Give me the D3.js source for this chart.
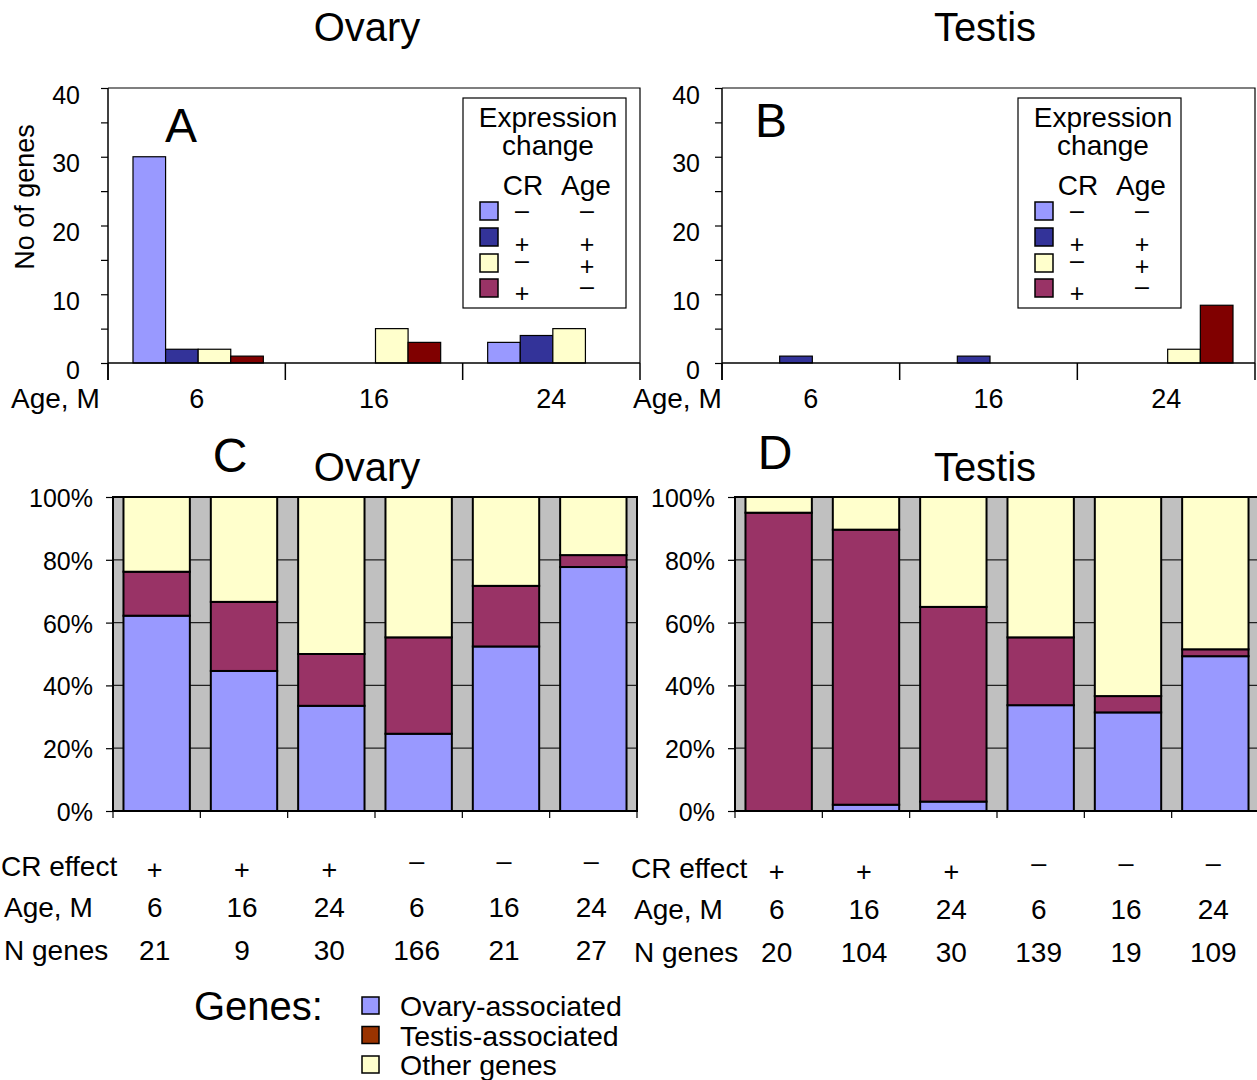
<!DOCTYPE html>
<html>
<head>
<meta charset="utf-8">
<script src="https://cdn.jsdelivr.net/npm/d3@7"></script>
<style>
  body { margin: 0; background: #fff; }
  svg text { font-family: "Liberation Sans", Arial, Helvetica, sans-serif; fill: #000; }
</style>
</head>
<body>
<svg id="fig" width="1257" height="1080"></svg>
<script>
// ---- data: panels A / B (number of genes per age, by expression change) ----
const ages = ["6", "16", "24"];
const exprKeys = ["CR- Age-", "CR+ Age+", "CR- Age+", "CR+ Age-"];
const crSigns  = ["−", "+", "−", "+"];
const ageSigns = ["−", "+", "+", "−"];

const ovaryDownDown = [30, 0, 3];
const ovaryUpUp     = [2, 0, 4];
const ovaryDownUp   = [2, 5, 5];
const ovaryUpDown   = [1, 3, 0];

const testisDownDown = [0, 0, 0];
const testisUpUp     = [1, 1, 0];
const testisDownUp   = [0, 0, 2];
const testisUpDown   = [0, 0, 8.4];

// ---- data: panels C / D (percent of genes by tissue association) ----
const crEffect  = ["+", "+", "+", "−", "−", "−"];
const stackAges = ["6", "16", "24", "6", "16", "24"];

const ovaryNGenes  = [21, 9, 30, 166, 21, 27];
const ovaryPctOvaryAssoc  = [62.2, 44.6, 33.5, 24.6, 52.4, 77.7];
const ovaryPctTestisAssoc = [14.0, 22.0, 16.5, 30.7, 19.3, 3.8];
const ovaryPctOther       = [23.8, 33.4, 50.0, 44.7, 28.3, 18.5];

const testisNGenes = [20, 104, 30, 139, 19, 109];
const testisPctOvaryAssoc  = [0, 2.0, 3.0, 33.7, 31.4, 49.3];
const testisPctTestisAssoc = [95.0, 87.6, 62.0, 21.6, 5.2, 2.2];
const testisPctOther       = [5.0, 10.4, 35.0, 44.7, 63.4, 48.5];

const geneGroups = ["Ovary-associated", "Testis-associated", "Other genes"];

// colours
const barColors = ["#9999ff", "#333399", "#ffffcc", "#800000"];
const exprLegendColors = ["#9999ff", "#333399", "#ffffcc", "#993366"];
const stackColors = ["#9999ff", "#993366", "#ffffcc"];
const geneLegendColors = ["#9999ff", "#993300", "#ffffcc"];

const svg = d3.select("#fig");

function txt(g, x, y, s, size, anchor) {
  return g.append("text").attr("x", x).attr("y", y).attr("font-size", size)
    .attr("text-anchor", anchor || "start").text(s);
}

function drawBars(o) {
  const g = svg.append("g");
  const x0 = d3.scaleBand().domain(ages).range([o.left, o.right]);
  const x1 = d3.scaleBand().domain(d3.range(o.series.length)).range([25, x0.bandwidth() - 22]);
  const y = d3.scaleLinear().domain([0, 40]).range([o.bottom, o.top]);

  g.append("path")
    .attr("d", `M${o.left},${o.top}H${o.right}V${o.bottom}`)
    .attr("fill", "none").attr("stroke", "#000").attr("stroke-width", 1.2);

  o.series.forEach((vals, j) => {
    g.selectAll(null)
      .data(vals.map((v, i) => ({ v: v, age: ages[i] })).filter(d => d.v > 0))
      .join("rect")
      .attr("x", d => x0(d.age) + x1(j))
      .attr("width", x1.bandwidth())
      .attr("y", d => y(d.v))
      .attr("height", d => y(0) - y(d.v))
      .attr("fill", barColors[j])
      .attr("stroke", "#000").attr("stroke-width", 1.2);
  });

  const ya = g.append("g").attr("transform", `translate(${o.left},0)`)
    .call(d3.axisLeft(y).tickValues(d3.range(0, 41, 5)).tickSize(7).tickPadding(o.pad)
      .tickFormat(d => d % 10 === 0 ? d : ""));
  ya.select(".domain").remove();
  ya.selectAll("line").attr("stroke-width", 1.2);
  ya.selectAll("text").attr("font-size", 25).attr("dy", "0.6em");

  g.append("line").attr("x1", o.left).attr("x2", o.left)
    .attr("y1", o.top).attr("y2", o.bottom + 17)
    .attr("stroke", "#000").attr("stroke-width", 1.5);
  g.append("line").attr("x1", o.left).attr("x2", o.right)
    .attr("y1", y(0)).attr("y2", y(0))
    .attr("stroke", "#000").attr("stroke-width", 1.5);
  g.selectAll(null).data(d3.range(ages.length + 1)).join("line")
    .attr("x1", i => o.left + i * x0.step()).attr("x2", i => o.left + i * x0.step())
    .attr("y1", y(0)).attr("y2", y(0) + 17)
    .attr("stroke", "#000").attr("stroke-width", 1.5);

  const xa = g.append("g").attr("transform", `translate(0,${o.bottom})`)
    .call(d3.axisBottom(x0).tickSize(0).tickPadding(0));
  xa.select(".domain").remove();
  xa.selectAll("text").attr("font-size", 27).attr("dy", 0).attr("y", 45);
  txt(g, o.ageX, o.bottom + 45, "Age, M", 28);

  txt(g, o.letterX, o.letterY, o.letter, 48, "middle");

  // expression change legend box
  const bx = o.boxX, by = 98;
  g.append("rect").attr("x", bx).attr("y", by).attr("width", 163).attr("height", 210)
    .attr("fill", "#fff").attr("stroke", "#000").attr("stroke-width", 1.2);
  txt(g, bx + 85, by + 29, "Expression", 28, "middle");
  txt(g, bx + 85, by + 57, "change", 28, "middle");
  txt(g, bx + 60, by + 97, "CR", 28, "middle");
  txt(g, bx + 123, by + 97, "Age", 28, "middle");
  const rowY = [104, 130, 156, 181];
  g.selectAll(null).data(exprKeys).join("rect")
    .attr("x", bx + 17).attr("y", (d, i) => by + rowY[i])
    .attr("width", 18).attr("height", 18)
    .attr("fill", (d, i) => exprLegendColors[i])
    .attr("stroke", "#000").attr("stroke-width", 1.5);
  const crCy = [114, 147, 164, 196], ageCy = [114, 147, 169, 190];
  const sy = (s, cy) => by + cy + (s === "+" ? 8 : 7);
  g.selectAll(null).data(crSigns).join("text")
    .attr("x", bx + 59).attr("y", (s, i) => sy(s, crCy[i]))
    .attr("font-size", 25).attr("text-anchor", "middle").text(s => s === "+" ? "+" : "–");
  g.selectAll(null).data(ageSigns).join("text")
    .attr("x", bx + 124).attr("y", (s, i) => sy(s, ageCy[i]))
    .attr("font-size", 25).attr("text-anchor", "middle").text(s => s === "+" ? "+" : "–");
}

function drawStack(o) {
  const g = svg.append("g");
  const top = 497, bottom = 811;
  const x = d3.scaleBand().domain(d3.range(6)).range([o.left, o.right])
    .paddingInner(0.24).paddingOuter(0.12);
  const y = d3.scaleLinear().domain([0, 100]).range([bottom, top]);

  g.append("rect").attr("x", o.left).attr("y", top)
    .attr("width", o.right - o.left).attr("height", bottom - top).attr("fill", "#c0c0c0");
  g.selectAll(null).data([20, 40, 60, 80]).join("line")
    .attr("x1", o.left).attr("x2", o.right).attr("y1", d => y(d)).attr("y2", d => y(d))
    .attr("stroke", "#222").attr("stroke-width", 1.2);

  const rows = d3.range(6).map(i => ({
    i: i, ovary: o.ovary[i], testis: o.testis[i], other: o.other[i]
  }));
  const stacked = d3.stack().keys(["ovary", "testis", "other"])(rows);
  stacked.forEach((layer, k) => {
    g.selectAll(null).data(layer.filter(d => d[1] - d[0] > 0)).join("rect")
      .attr("x", d => x(d.data.i)).attr("width", x.bandwidth())
      .attr("y", d => y(d[1])).attr("height", d => y(d[0]) - y(d[1]))
      .attr("fill", stackColors[k]).attr("stroke", "#000").attr("stroke-width", 2);
  });

  g.append("rect").attr("x", o.left).attr("y", top)
    .attr("width", o.right - o.left).attr("height", bottom - top)
    .attr("fill", "none").attr("stroke", "#000").attr("stroke-width", 2);

  const ya = g.append("g").attr("transform", `translate(${o.left},0)`)
    .call(d3.axisLeft(y).tickValues([0, 20, 40, 60, 80, 100]).tickSize(7).tickPadding(o.pad)
      .tickFormat(d => d + "%"));
  ya.select(".domain").remove();
  ya.selectAll("line").attr("stroke-width", 1.2);
  ya.selectAll("text").attr("font-size", 25).attr("dy", "0.38em");

  g.selectAll(null).data(d3.range(7)).join("line")
    .attr("x1", i => o.left + i * x.step()).attr("x2", i => o.left + i * x.step())
    .attr("y1", bottom).attr("y2", bottom + 7)
    .attr("stroke", "#000").attr("stroke-width", 1.2);

  txt(g, o.titleX, 481, o.title, 40, "middle");
  txt(g, o.letterX, o.letterY, o.letter, 48, "middle");

  // table under the bars
  const cx = i => x(i) + x.bandwidth() / 2;
  const y1 = 876 + o.dy, y2 = 917 + o.dy, y3 = 960 + o.dy;
  txt(g, o.labX, y1, "CR effect", 28);
  txt(g, o.labX + 3, y2, "Age, M", 28);
  txt(g, o.labX + 3, y3, "N genes", 28);
  g.selectAll(null).data(crEffect).join("text")
    .attr("x", (d, i) => cx(i) - 2).attr("y", d => d === "+" ? y1 + 3 : y1 - 6)
    .attr("font-size", 27).attr("text-anchor", "middle").text(d => d === "+" ? "+" : "–");
  g.selectAll(null).data(stackAges).join("text")
    .attr("x", (d, i) => cx(i) - 2).attr("y", y2)
    .attr("font-size", 28).attr("text-anchor", "middle").text(d => d);
  g.selectAll(null).data(o.n).join("text")
    .attr("x", (d, i) => cx(i) - 2).attr("y", y3)
    .attr("font-size", 28).attr("text-anchor", "middle").text(d => d);
}

// titles
txt(svg, 367, 41, "Ovary", 40, "middle");
txt(svg, 985, 41, "Testis", 40, "middle");
svg.append("text").attr("transform", "translate(34,197) rotate(-90)")
  .attr("font-size", 27).attr("text-anchor", "middle").text("No of genes");

drawBars({
  left: 108, right: 640, top: 88, bottom: 363, pad: 21,
  series: [ovaryDownDown, ovaryUpUp, ovaryDownUp, ovaryUpDown],
  ageX: 11, letter: "A", letterX: 181, letterY: 142, boxX: 463
});
drawBars({
  left: 722, right: 1255, top: 88, bottom: 363, pad: 15,
  series: [testisDownDown, testisUpUp, testisDownUp, testisUpDown],
  ageX: 633, letter: "B", letterX: 771, letterY: 137, boxX: 1018
});

drawStack({
  left: 113, right: 637, pad: 13, title: "Ovary", titleX: 367,
  letter: "C", letterX: 230, letterY: 472,
  ovary: ovaryPctOvaryAssoc, testis: ovaryPctTestisAssoc, other: ovaryPctOther,
  n: ovaryNGenes, labX: 1, dy: 0
});
drawStack({
  left: 735, right: 1259, pad: 13, title: "Testis", titleX: 985,
  letter: "D", letterX: 775, letterY: 469,
  ovary: testisPctOvaryAssoc, testis: testisPctTestisAssoc, other: testisPctOther,
  n: testisNGenes, labX: 631, dy: 2
});

// gene group legend
txt(svg, 194, 1020, "Genes:", 40);
const lg = svg.append("g");
lg.selectAll("rect").data(geneGroups).join("rect")
  .attr("x", 362).attr("y", (d, i) => 997 + i * 29.5)
  .attr("width", 17).attr("height", 17)
  .attr("fill", (d, i) => geneLegendColors[i]).attr("stroke", "#000").attr("stroke-width", 1.5);
lg.selectAll("text").data(geneGroups).join("text")
  .attr("x", 400).attr("y", (d, i) => 1016 + i * 29.5)
  .attr("font-size", 28.5).text(d => d);
</script>
</body>
</html>
